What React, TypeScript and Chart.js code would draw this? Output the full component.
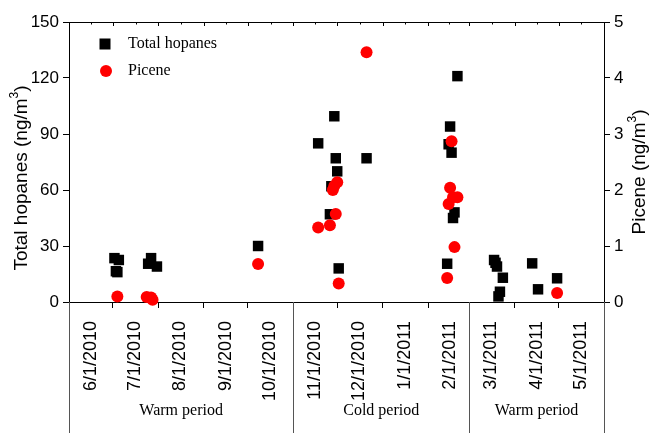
import React, { useEffect, useRef } from "react";
import { Chart, registerables } from "chart.js";

Chart.register(...registerables);

// ---- data ----
const hopaneDates = [
  "2010-07-02", "2010-07-03", "2010-07-04", "2010-07-05",
  "2010-07-25", "2010-07-27", "2010-07-31",
  "2010-10-08",
  "2010-11-18", "2010-11-26", "2010-11-27", "2010-11-29", "2010-11-30", "2010-12-01", "2010-12-02",
  "2010-12-21",
  "2011-02-14", "2011-02-15", "2011-02-16", "2011-02-17", "2011-02-18", "2011-02-19", "2011-02-21",
  "2011-03-18", "2011-03-19", "2011-03-20", "2011-03-21", "2011-03-22", "2011-03-24",
  "2011-04-13", "2011-04-17", "2011-04-30",
];
const hopaneValues = [
  23.5, 16.5, 16, 22.5,
  20.5, 23.5, 19,
  30,
  85, 47, 62, 99.5, 77, 70, 18,
  77,
  20.5, 84.5, 94, 80, 45, 48, 121,
  22.5, 21, 19, 3, 5.5, 13,
  20.7, 6.8, 12.7,
];

const piceneDates = [
  "2010-07-04", "2010-07-24", "2010-07-27", "2010-07-28",
  "2010-10-08",
  "2010-11-18", "2010-11-26", "2010-11-28", "2010-11-29", "2010-11-30", "2010-12-01", "2010-12-02",
  "2010-12-21",
  "2011-02-14", "2011-02-15", "2011-02-16", "2011-02-17", "2011-02-18", "2011-02-19", "2011-02-21",
  "2011-04-30",
];
const piceneValues = [
  0.1, 0.09, 0.08, 0.04,
  0.68,
  1.33, 1.37, 2.0, 2.07, 1.57, 2.14, 0.33,
  4.46,
  0.43, 1.75, 2.04, 2.87, 1.87, 0.98, 1.87,
  0.16,
];

const monthTickDates = [
  "2010-06-01", "2010-07-01", "2010-08-01", "2010-09-01", "2010-10-01", "2010-11-01",
  "2010-12-01", "2011-01-01", "2011-02-01", "2011-03-01", "2011-04-01", "2011-05-01", "2011-06-01",
];
const monthTickLabels = [
  "6/1/2010", "7/1/2010", "8/1/2010", "9/1/2010", "10/1/2010", "11/1/2010",
  "12/1/2010", "1/1/2011", "2/1/2011", "3/1/2011", "4/1/2011", "5/1/2011", "",
];

const periodLabels = ["Warm period", "Cold period", "Warm period"];
const periodBounds = ["2010-06-01", "2010-11-01", "2011-03-01", "2011-06-01"];

const hopaneAxisMax = 150;
const hopaneAxisStep = 30;
const piceneAxisMax = 5;
const piceneAxisStep = 1;

const seriesNames = ["Total hopanes", "Picene"];

// ---- helpers ----
const ORIGIN = Date.UTC(2010, 5, 1);
function toDay(s: string): number {
  const [y, m, d] = s.split("-").map(Number);
  return (Date.UTC(y, m - 1, d) - ORIGIN) / 86400000;
}

const SANS = "'Liberation Sans', Arial, sans-serif";
const SERIF = "'Liberation Serif', 'Times New Roman', serif";

function drawTitleWithSup(
  ctx: CanvasRenderingContext2D,
  cx: number,
  cy: number,
  main: string,
  sup: string,
  tail: string,
  size: number
) {
  ctx.save();
  ctx.translate(cx, cy);
  ctx.rotate(-Math.PI / 2);
  ctx.fillStyle = "#000";
  ctx.textBaseline = "middle";
  ctx.textAlign = "left";
  const fMain = `${size}px ${SANS}`;
  const fSup = `${Math.round(size * 0.62)}px ${SANS}`;
  ctx.font = fMain;
  const w1 = ctx.measureText(main).width;
  const w3 = ctx.measureText(tail).width;
  ctx.font = fSup;
  const w2 = ctx.measureText(sup).width;
  const total = w1 + w2 + w3;
  let x = -total / 2;
  ctx.font = fMain;
  ctx.fillText(main, x, 0);
  x += w1;
  ctx.font = fSup;
  ctx.fillText(sup, x, -size * 0.38);
  x += w2;
  ctx.font = fMain;
  ctx.fillText(tail, x, 0);
  ctx.restore();
}

const decorPlugin = {
  id: "decor",
  afterDraw(chart: any) {
    const { ctx, chartArea, scales } = chart;
    const xs = scales.x;
    const H = chart.height;
    ctx.save();
    ctx.strokeStyle = "#000";
    ctx.lineWidth = 1;

    // top border with small inward ticks
    ctx.beginPath();
    ctx.moveTo(chartArea.left, chartArea.top + 0.5);
    ctx.lineTo(chartArea.right, chartArea.top + 0.5);
    ctx.stroke();
    const tdays = monthTickDates.map(toDay);
    for (let i = 0; i < tdays.length; i++) {
      const xs1 = Math.round(xs.getPixelForValue(tdays[i])) + 0.5;
      ctx.beginPath();
      ctx.moveTo(xs1, chartArea.top);
      ctx.lineTo(xs1, chartArea.top + 4);
      ctx.stroke();
      if (i < tdays.length - 1) {
        const xm = Math.round(xs.getPixelForValue((tdays[i] + tdays[i + 1]) / 2)) + 0.5;
        ctx.beginPath();
        ctx.moveTo(xm, chartArea.top);
        ctx.lineTo(xm, chartArea.top + 2.5);
        ctx.stroke();
      }
    }

    // period dividers
    const bdays = periodBounds.map(toDay);
    ctx.strokeStyle = "#555";
    for (const b of bdays) {
      const px = Math.round(xs.getPixelForValue(b)) + 0.5;
      ctx.beginPath();
      ctx.moveTo(px, chartArea.bottom);
      ctx.lineTo(px, H);
      ctx.stroke();
    }

    // period labels
    ctx.fillStyle = "#000";
    ctx.font = `16px ${SERIF}`;
    ctx.textAlign = "center";
    ctx.textBaseline = "middle";
    for (let i = 0; i < periodLabels.length; i++) {
      const x0 = xs.getPixelForValue(bdays[i]);
      const x1 = xs.getPixelForValue(bdays[i + 1]);
      ctx.fillText(periodLabels[i], (x0 + x1) / 2, H - 22);
    }

    // axis titles
    drawTitleWithSup(ctx, 22, (chartArea.top + chartArea.bottom) / 2 + 16, "Total hopanes (ng/m", "3", ")", 19);
    drawTitleWithSup(ctx, chart.width - 12, (chartArea.top + chartArea.bottom) / 2 + 10, "Picene (ng/m", "3", ")", 19);

    // legend
    const lx = chartArea.left + 36;
    const ly = chartArea.top + 22;
    const ds = chart.data.datasets;
    ctx.fillStyle = ds[0].backgroundColor;
    ctx.fillRect(lx - 5.5, ly - 5.5, 11, 11);
    ctx.fillStyle = ds[1].backgroundColor;
    ctx.beginPath();
    ctx.arc(lx + 1, ly + 27, 6, 0, Math.PI * 2);
    ctx.fill();
    ctx.fillStyle = "#000";
    ctx.font = `16px ${SERIF}`;
    ctx.textAlign = "left";
    ctx.textBaseline = "middle";
    ctx.fillText(ds[0].label, lx + 23, ly);
    ctx.fillText(ds[1].label, lx + 23, ly + 27);
    ctx.restore();
  },
};

export default function App() {
  const ref = useRef<HTMLCanvasElement>(null);

  useEffect(() => {
    const canvas = ref.current;
    if (!canvas) return;
    const tickDays = monthTickDates.map(toDay);

    const chart = new Chart(canvas, {
      type: "scatter",
      data: {
        datasets: [
          {
            label: seriesNames[0],
            data: hopaneDates.map((d, i) => ({ x: toDay(d), y: hopaneValues[i] })),
            yAxisID: "y",
            pointStyle: "rect",
            pointRadius: 7.4,
            backgroundColor: "#000000",
            borderWidth: 0,
            order: 1,
            clip: false,
          },
          {
            label: seriesNames[1],
            data: piceneDates.map((d, i) => ({ x: toDay(d), y: piceneValues[i] })),
            yAxisID: "y2",
            pointStyle: "circle",
            pointRadius: 6,
            backgroundColor: "#ff0000",
            borderWidth: 0,
            order: 0,
            clip: false,
          },
        ],
      },
      options: {
        responsive: false,
        animation: false,
        devicePixelRatio: 1,
        layout: { padding: { top: 22, left: 0, right: 0, bottom: 0 } },
        plugins: {
          legend: { display: false },
          tooltip: { enabled: false },
        },
        scales: {
          x: {
            type: "linear",
            position: "bottom",
            min: tickDays[0],
            max: tickDays[tickDays.length - 1],
            afterBuildTicks: (scale: any) => {
              scale.ticks = tickDays.map((v) => ({ value: v }));
            },
            afterFit: (scale: any) => {
              scale.height = 131;
            },
            ticks: {
              autoSkip: false,
              minRotation: 90,
              maxRotation: 90,
              labelOffset: 22,
              padding: 13,
              color: "#000",
              font: { family: SANS, size: 18 },
              callback: (_v: any, i: number) => monthTickLabels[i],
            },
            grid: { drawOnChartArea: false, drawTicks: true, tickLength: 6, color: "#000" },
            border: { color: "#000", width: 1 },
          },
          y: {
            type: "linear",
            position: "left",
            min: 0,
            max: hopaneAxisMax,
            afterFit: (scale: any) => {
              scale.width = 69;
            },
            ticks: {
              stepSize: hopaneAxisStep,
              padding: 4,
              color: "#000",
              font: { family: SANS, size: 17 },
            },
            grid: { drawOnChartArea: false, drawTicks: true, tickLength: 6, color: "#000" },
            border: { color: "#000", width: 1 },
          },
          y2: {
            type: "linear",
            position: "right",
            min: 0,
            max: piceneAxisMax,
            afterFit: (scale: any) => {
              scale.width = 48;
            },
            ticks: {
              stepSize: piceneAxisStep,
              padding: 4,
              color: "#000",
              font: { family: SANS, size: 17 },
            },
            grid: { drawOnChartArea: false, drawTicks: true, tickLength: 6, color: "#000" },
            border: { color: "#000", width: 1 },
          },
        },
      },
      plugins: [decorPlugin],
    } as any);

    return () => chart.destroy();
  }, []);

  return (
    <div style={{ position: "absolute", left: 0, top: 0, width: 652, height: 433, background: "#fff" }}>
      <canvas ref={ref} width={652} height={433} style={{ display: "block" }} />
    </div>
  );
}
